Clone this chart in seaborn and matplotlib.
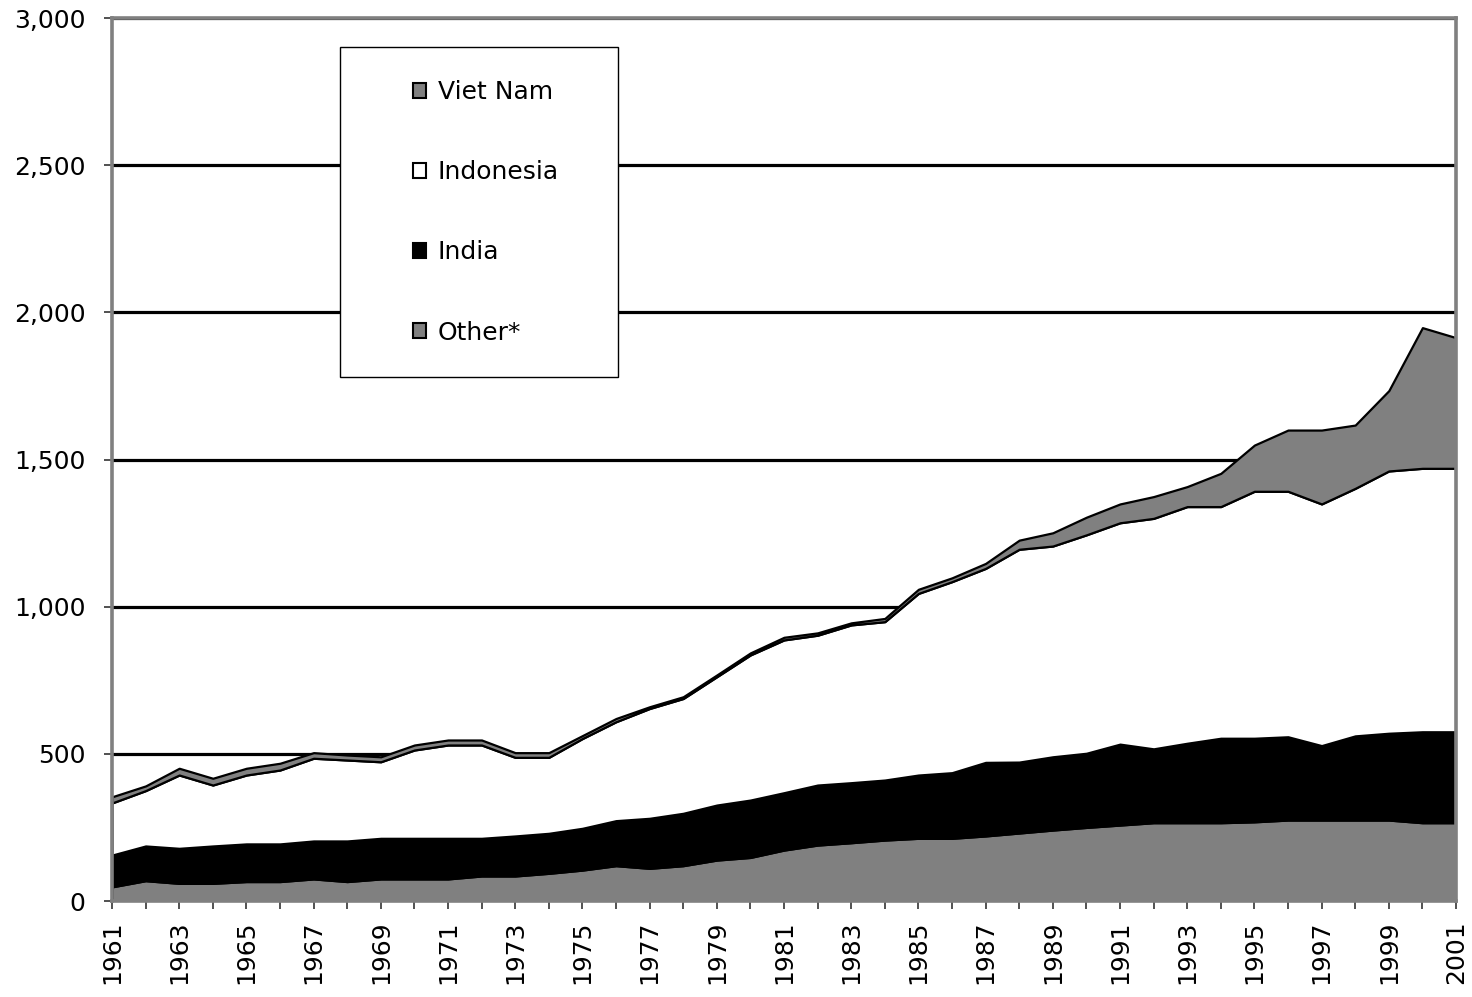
import matplotlib
matplotlib.use("Agg")
import matplotlib.pyplot as plt
from matplotlib.patches import Patch, Rectangle
import seaborn as sns
import numpy as np

# ---- data (thousand tonnes) ----
years = list(range(1961, 2002))
other = [48, 69, 60, 60, 66, 66, 75, 66, 75, 75, 75, 85, 85, 94, 105, 120, 111, 120, 139, 148,
         173, 190, 198, 207, 213, 213, 221, 231, 241, 250, 258, 266, 266, 266, 269, 275, 275, 275,
         275, 266, 266]
india = [108, 118, 119, 127, 128, 128, 129, 138, 138, 138, 138, 128, 136, 136, 142, 153, 170, 178,
         187, 195, 195, 204, 204, 204, 215, 223, 250, 241, 249, 252, 275, 251, 270, 287, 284, 283,
         253, 286, 295, 309, 309]
indonesia = [177, 188, 249, 207, 234, 251, 281, 275, 260, 300, 317, 317, 267, 258, 305, 336, 373,
             390, 436, 493, 519, 509, 536, 538, 617, 649, 659, 723, 716, 742, 752, 783, 804, 787,
             839, 834, 821, 841, 891, 895, 895]
vietnam = [21, 16, 23, 23, 23, 23, 19, 17, 17, 17, 17, 17, 16, 16, 10, 11, 6, 6, 6, 7, 9, 8, 7, 11,
           14, 13, 17, 31, 45, 60, 64, 74, 68, 113, 157, 208, 251, 215, 273, 478, 444]

series_labels = ["Other*", "India", "Indonesia", "Viet Nam"]
series_colors = ["#808080", "#000000", "#ffffff", "#808080"]
y_ticks = [0, 500, 1000, 1500, 2000, 2500, 3000]
y_tick_labels = ["0", "500", "1,000", "1,500", "2,000", "2,500", "3,000"]

sns.set_theme(style="white")
plt.rcParams["font.family"] = ["DejaVu Sans"]
plt.rcParams["text.color"] = "black"

fig = plt.figure(figsize=(14.72, 9.97), dpi=100)
ax = fig.add_axes([112 / 1472, 1 - 901 / 997, (1456 - 112) / 1472, (901 - 18) / 997])

ax.stackplot(years, other, india, indonesia, vietnam,
             colors=series_colors, edgecolor="black", linewidth=1.6, zorder=2)

ax.set_xlim(1961, 2001)
ax.set_ylim(0, 3000)

# gridlines
ax.yaxis.grid(True, color="black", linewidth=2.3, zorder=0)
ax.xaxis.grid(False)
ax.set_axisbelow(True)

ax.set_yticks(y_ticks)
ax.set_yticklabels(y_tick_labels, fontsize=18, color="black")
ax.set_xticks(years)
ax.set_xticklabels([str(y) if (y - 1961) % 2 == 0 else "" for y in years],
                   rotation=90, fontsize=18, color="black")
ax.tick_params(axis="both", which="major", direction="out", length=6, width=1.2,
               color="#333333", left=True, bottom=True)
ax.tick_params(axis="y", pad=13)
ax.tick_params(axis="x", pad=8)

for side in ["left", "right", "top", "bottom"]:
    ax.spines[side].set_visible(True)
    ax.spines[side].set_color("#808080")
    ax.spines[side].set_linewidth(2.6)
    ax.spines[side].set_zorder(3)

# legend box
ax.add_patch(Rectangle((0.1696, 0.593), 0.207, 0.374, transform=ax.transAxes,
                       facecolor="white", edgecolor="black", linewidth=1.0, zorder=5))
handles = [Patch(facecolor=c, edgecolor="black", linewidth=1.5, label=l)
           for c, l in zip(series_colors[::-1], series_labels[::-1])]
leg = ax.legend(handles=handles, loc="center", bbox_to_anchor=(0.278, 0.78),
                frameon=False, fontsize=18, handlelength=0.55, handleheight=0.55,
                handletextpad=0.45, labelspacing=2.25, borderpad=0, labelcolor="black")
leg.set_zorder(6)

fig.savefig("out.png", dpi=100)
